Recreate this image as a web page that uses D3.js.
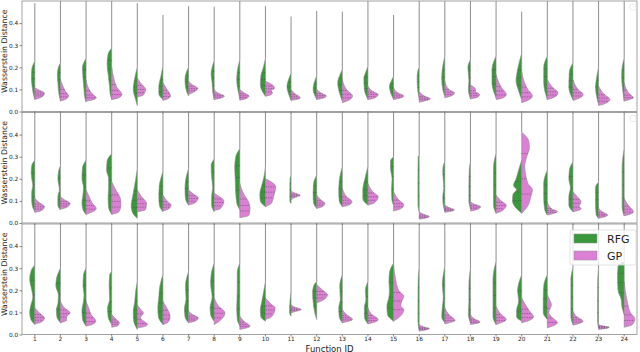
<!DOCTYPE html>
<html>
<head>
<meta charset="utf-8">
<script src="https://cdn.jsdelivr.net/npm/d3@7"></script>
<style>
  body { margin: 0; background: #fff; }
  svg { display: block; font-family: "DejaVu Sans", sans-serif; }
</style>
</head>
<body>
<div id="chart"></div>
<script>
// categories and labels
var functionIds = [1, 2, 3, 4, 5, 6, 7, 8, 9, 10, 11, 12, 13, 14, 15, 16, 17, 18, 19, 20, 21, 22, 23, 24]
var seriesNames = ["RFG", "GP"]
var yTicks = [0, 0.1, 0.2, 0.3, 0.4]

// half-violin profiles: [value, relative density], bottom to top
var rfgTop = [
  [[0.054,0],[0.07,0.1],[0.11,0.25],[0.15,0.33],[0.19,0.3],[0.227,0]],
  [[0.047,0],[0.08,0.15],[0.13,0.25],[0.165,0.3],[0.2,0.2],[0.22,0]],
  [[0.042,0],[0.07,0.15],[0.1,0.2],[0.15,0.3],[0.2,0.35],[0.24,0]],
  [[0.054,0],[0.08,0.15],[0.11,0.2],[0.17,0.35],[0.215,0.45],[0.26,0.35],[0.287,0]],
  [[0.027,0],[0.06,0.2],[0.1,0.4],[0.14,0.3],[0.2,0]],
  [[0.054,0],[0.08,0.4],[0.11,0.4],[0.16,0.2],[0.204,0]],
  [[0.07,0],[0.1,0.25],[0.144,0.35],[0.18,0.2],[0.2,0]],
  [[0.054,0],[0.09,0.15],[0.13,0.2],[0.17,0.3],[0.2,0.2],[0.23,0]],
  [[0.054,0],[0.09,0.15],[0.14,0.3],[0.18,0.25],[0.234,0]],
  [[0.069,0],[0.12,0.5],[0.16,0.45],[0.2,0.2],[0.24,0]],
  [[0.05,0],[0.08,0.25],[0.114,0.4],[0.15,0.2],[0.174,0]],
  [[0.054,0],[0.08,0.25],[0.1,0.35],[0.13,0.25],[0.16,0]],
  [[0.047,0],[0.08,0.25],[0.13,0.45],[0.17,0.2],[0.19,0]],
  [[0.054,0],[0.1,0.35],[0.15,0.4],[0.18,0.2],[0.204,0]],
  [[0.054,0],[0.08,0.25],[0.114,0.4],[0.14,0.2],[0.16,0]],
  [[0.06,0],[0.1,0.15],[0.15,0.2],[0.18,0.15],[0.2,0]],
  [[0.069,0],[0.1,0.2],[0.15,0.3],[0.19,0.25],[0.25,0]],
  [[0.057,0],[0.1,0.2],[0.14,0.15],[0.2,0.25],[0.234,0]],
  [[0.062,0],[0.13,0.4],[0.19,0.4],[0.25,0]],
  [[0.054,0],[0.1,0.35],[0.14,0.55],[0.19,0.4],[0.264,0]],
  [[0.054,0],[0.13,0.35],[0.2,0.35],[0.25,0]],
  [[0.054,0],[0.11,0.4],[0.18,0.35],[0.22,0]],
  [[0.032,0],[0.07,0.2],[0.11,0.3],[0.15,0.2],[0.2,0]],
  [[0.047,0],[0.1,0.15],[0.16,0.25],[0.2,0.2],[0.24,0]]
]
var gpTop = [
  [[0.054,0],[0.06,0.4],[0.07,0.8],[0.084,0.95],[0.095,0.5],[0.107,0]],
  [[0.047,0],[0.055,0.5],[0.07,0.8],[0.09,0.5],[0.12,0.2],[0.144,0]],
  [[0.047,0],[0.052,0.6],[0.062,1.0],[0.08,0.6],[0.11,0.2],[0.144,0]],
  [[0.054,0],[0.06,0.6],[0.077,1.0],[0.11,0.5],[0.15,0.2],[0.2,0]],
  [[0.066,0],[0.075,0.6],[0.1,0.8],[0.13,0.3],[0.152,0]],
  [[0.05,0],[0.058,0.5],[0.07,0.75],[0.1,0.4],[0.13,0]],
  [[0.077,0],[0.09,0.6],[0.105,0.9],[0.12,0.4],[0.137,0]],
  [[0.054,0],[0.06,0.6],[0.07,1.0],[0.08,0.5],[0.1,0]],
  [[0.051,0],[0.058,0.6],[0.07,0.9],[0.085,0.4],[0.1,0]],
  [[0.069,0],[0.075,0.5],[0.085,0.7],[0.095,0.55],[0.105,0.9],[0.12,0.7],[0.137,0]],
  [[0.05,0],[0.055,0.6],[0.062,0.9],[0.08,0.4],[0.1,0]],
  [[0.054,0],[0.06,0.6],[0.07,0.95],[0.085,0.4],[0.1,0]],
  [[0.04,0],[0.05,0.6],[0.07,1.0],[0.1,0.4],[0.144,0]],
  [[0.054,0],[0.06,0.6],[0.077,1.0],[0.09,0.5],[0.114,0]],
  [[0.054,0],[0.06,0.6],[0.07,1.0],[0.085,0.4],[0.107,0]],
  [[0.042,0],[0.05,0.7],[0.057,1.1],[0.07,0.5],[0.09,0]],
  [[0.062,0],[0.07,0.6],[0.084,0.95],[0.1,0.4],[0.137,0]],
  [[0.057,0],[0.065,0.7],[0.077,0.9],[0.09,0.5],[0.1,0.5],[0.12,0]],
  [[0.054,0],[0.06,0.6],[0.077,1.0],[0.11,0.5],[0.167,0]],
  [[0.04,0],[0.05,0.6],[0.07,1.05],[0.1,0.6],[0.14,0.2],[0.18,0]],
  [[0.054,0],[0.065,0.7],[0.084,1.05],[0.11,0.5],[0.144,0]],
  [[0.05,0],[0.06,0.6],[0.077,1.0],[0.1,0.5],[0.144,0]],
  [[0.027,0],[0.035,0.6],[0.054,1.1],[0.08,0.5],[0.114,0]],
  [[0.047,0],[0.055,0.6],[0.062,0.9],[0.08,0.5],[0.13,0]]
]
var tailTop = [0.49, 0.6, 0.6, 0.6, 0.49, 0.437, 0.477, 0.474, 0.6, 0.477, 0.43, 0.455,
  0.452, 0.6, 0.437, 0.6, 0.6, 0.6, 0.6, 0.452, 0.6, 0.6, 0.6, 0.6]

var rfgMid = [
  [[0.051,0],[0.07,0.2],[0.1,0.3],[0.14,0.3],[0.17,0.2],[0.2,0.3],[0.23,0.35],[0.26,0.3],[0.284,0]],
  [[0.059,0],[0.08,0.25],[0.12,0.25],[0.15,0.1],[0.2,0.25],[0.23,0.2],[0.26,0]],
  [[0.039,0],[0.06,0.3],[0.09,0.4],[0.13,0.3],[0.16,0.25],[0.2,0.4],[0.25,0.35],[0.284,0]],
  [[0.039,0],[0.07,0.3],[0.11,0.35],[0.16,0.3],[0.2,0.3],[0.24,0.5],[0.28,0.45],[0.314,0]],
  [[0.021,0],[0.05,0.5],[0.08,0.6],[0.11,0.5],[0.16,0.3],[0.2,0.15],[0.246,0]],
  [[0.051,0],[0.08,0.35],[0.12,0.4],[0.17,0.35],[0.231,0]],
  [[0.081,0],[0.11,0.3],[0.15,0.35],[0.19,0.3],[0.246,0]],
  [[0.051,0],[0.08,0.25],[0.12,0.25],[0.16,0.15],[0.21,0.25],[0.26,0.3],[0.29,0]],
  [[0.06,0],[0.09,0.3],[0.14,0.4],[0.2,0.45],[0.25,0.5],[0.3,0.4],[0.336,0]],
  [[0.074,0],[0.1,0.5],[0.13,0.55],[0.18,0.3],[0.22,0.1],[0.254,0]],
  [[0.089,0],[0.1,0.12],[0.15,0.12],[0.2,0.1],[0.216,0]],
  [[0.066,0],[0.09,0.3],[0.13,0.35],[0.18,0.3],[0.216,0]],
  [[0.074,0],[0.1,0.3],[0.14,0.35],[0.19,0.3],[0.254,0]],
  [[0.081,0],[0.11,0.5],[0.15,0.5],[0.2,0.3],[0.254,0]],
  [[0.081,0],[0.1,0.15],[0.15,0.2],[0.2,0.15],[0.25,0.3],[0.28,0.3],[0.3,0]],
  [[0.05,0],[0.08,0.12],[0.15,0.12],[0.22,0.12],[0.3,0.1],[0.306,0]],
  [[0.051,0],[0.08,0.15],[0.12,0.2],[0.16,0.1],[0.23,0.2],[0.26,0.15],[0.276,0]],
  [[0.066,0],[0.1,0.15],[0.17,0.15],[0.24,0.12],[0.276,0]],
  [[0.044,0],[0.08,0.25],[0.15,0.25],[0.25,0.25],[0.314,0]],
  [[0.044,0],[0.07,0.6],[0.1,0.9],[0.13,0.85],[0.15,0.5],[0.17,0.8],[0.2,0.55],[0.24,0.3],[0.284,0]],
  [[0.036,0],[0.06,0.25],[0.11,0.35],[0.18,0.35],[0.239,0]],
  [[0.051,0],[0.08,0.4],[0.12,0.4],[0.16,0.25],[0.2,0.4],[0.24,0.35],[0.276,0]],
  [[0.021,0],[0.04,0.25],[0.1,0.3],[0.16,0.3],[0.186,0]],
  [[0.033,0],[0.07,0.2],[0.15,0.2],[0.25,0.2],[0.336,0]]
]
var gpMid = [
  [[0.048,0],[0.055,0.6],[0.074,0.95],[0.09,0.5],[0.111,0]],
  [[0.063,0],[0.07,0.6],[0.089,0.95],[0.105,0.4],[0.119,0]],
  [[0.039,0],[0.05,0.6],[0.066,1.0],[0.09,0.6],[0.12,0.3],[0.149,0]],
  [[0.039,0],[0.05,0.7],[0.08,0.9],[0.11,0.85],[0.15,0.4],[0.186,0]],
  [[0.051,0],[0.06,0.8],[0.089,0.9],[0.12,0.4],[0.149,0]],
  [[0.054,0],[0.065,0.6],[0.081,0.8],[0.1,0.4],[0.126,0]],
  [[0.081,0],[0.09,0.6],[0.115,0.95],[0.13,0.5],[0.149,0]],
  [[0.057,0],[0.065,0.6],[0.1,0.95],[0.12,0.5],[0.135,0]],
  [[0.024,0],[0.035,0.9],[0.066,1.0],[0.096,0.85],[0.13,0.4],[0.179,0]],
  [[0.074,0],[0.09,0.6],[0.12,0.8],[0.164,1.0],[0.185,0.6],[0.2,0]],
  [[0.105,0],[0.114,0.3],[0.126,0.9],[0.135,0.4],[0.144,0]],
  [[0.066,0],[0.075,0.6],[0.089,0.8],[0.105,0.4],[0.126,0]],
  [[0.074,0],[0.08,0.6],[0.096,0.95],[0.12,0.4],[0.156,0]],
  [[0.081,0],[0.09,0.6],[0.119,1.0],[0.14,0.5],[0.179,0]],
  [[0.054,0],[0.065,0.7],[0.081,1.0],[0.11,0.4],[0.141,0]],
  [[0.017,0],[0.022,0.6],[0.029,1.0],[0.04,0.4],[0.051,0]],
  [[0.048,0],[0.053,0.6],[0.059,0.95],[0.07,0.4],[0.081,0]],
  [[0.054,0],[0.06,0.6],[0.074,1.0],[0.085,0.4],[0.096,0]],
  [[0.044,0],[0.055,0.6],[0.081,1.0],[0.1,0.5],[0.126,0]],
  [[0.044,0],[0.07,0.5],[0.12,0.9],[0.15,1.05],[0.18,0.6],[0.26,0.3],[0.3,0.5],[0.34,0.75],[0.37,0.7],[0.411,0]],
  [[0.036,0],[0.043,0.6],[0.051,1.0],[0.065,0.4],[0.096,0]],
  [[0.051,0],[0.06,0.7],[0.066,0.8],[0.075,0.6],[0.096,0.8],[0.12,0.4],[0.141,0]],
  [[0.021,0],[0.028,0.6],[0.036,0.9],[0.05,0.4],[0.066,0]],
  [[0.033,0],[0.04,0.6],[0.051,0.9],[0.08,0.4],[0.111,0]]
]
var tailMid = [0.6, 0.6, 0.6, 0.6, 0.6, 0.6, 0.6, 0.6, 0.6, 0.6, 0.6, 0.6,
  0.6, 0.6, 0.6, 0.6, 0.6, 0.6, 0.6, 0.6, 0.6, 0.6, 0.6, 0.6]

var rfgBottom = [
  [[0.045,0],[0.07,0.4],[0.1,0.5],[0.13,0.4],[0.17,0.2],[0.2,0.3],[0.25,0.5],[0.29,0.35],[0.315,0]],
  [[0.053,0],[0.08,0.35],[0.11,0.4],[0.14,0.25],[0.18,0.2],[0.22,0.45],[0.25,0.4],[0.3,0]],
  [[0.038,0],[0.07,0.35],[0.11,0.4],[0.15,0.25],[0.18,0.2],[0.22,0.3],[0.27,0.25],[0.3,0]],
  [[0.045,0],[0.08,0.35],[0.12,0.4],[0.16,0.2],[0.22,0.25],[0.27,0.2],[0.285,0]],
  [[0.023,0],[0.06,0.35],[0.1,0.4],[0.15,0.25],[0.2,0.15],[0.24,0]],
  [[0.045,0],[0.08,0.45],[0.12,0.5],[0.17,0.4],[0.22,0.3],[0.27,0]],
  [[0.053,0],[0.08,0.35],[0.12,0.4],[0.16,0.25],[0.22,0.3],[0.285,0]],
  [[0.06,0],[0.09,0.35],[0.12,0.4],[0.17,0.2],[0.23,0.35],[0.27,0.3],[0.323,0]],
  [[0.038,0],[0.07,0.25],[0.12,0.3],[0.2,0.25],[0.28,0.25],[0.323,0]],
  [[0.06,0],[0.08,0.45],[0.11,0.5],[0.15,0.35],[0.2,0.15],[0.24,0]],
  [[0.083,0],[0.1,0.15],[0.14,0.12],[0.195,0]],
  [[0.068,0],[0.1,0.2],[0.15,0.35],[0.19,0.4],[0.22,0.3],[0.24,0]],
  [[0.053,0],[0.08,0.3],[0.12,0.35],[0.16,0.2],[0.22,0.25],[0.27,0]],
  [[0.048,0],[0.08,0.35],[0.12,0.35],[0.16,0.2],[0.2,0.25],[0.24,0]],
  [[0.06,0],[0.09,0.6],[0.13,0.65],[0.17,0.45],[0.2,0.4],[0.24,0.45],[0.28,0.4],[0.323,0]],
  [[0.02,0],[0.06,0.12],[0.15,0.12],[0.25,0.1],[0.3,0]],
  [[0.053,0],[0.08,0.3],[0.12,0.25],[0.17,0.15],[0.23,0.25],[0.27,0.15],[0.31,0]],
  [[0.053,0],[0.09,0.2],[0.15,0.15],[0.22,0.15],[0.3,0]],
  [[0.045,0],[0.08,0.3],[0.15,0.3],[0.25,0.3],[0.33,0]],
  [[0.06,0],[0.08,0.5],[0.11,0.5],[0.15,0.3],[0.2,0.4],[0.23,0.3],[0.27,0]],
  [[0.068,0],[0.1,0.4],[0.15,0.4],[0.22,0.35],[0.27,0]],
  [[0.045,0],[0.08,0.2],[0.15,0.2],[0.25,0.2],[0.3,0]],
  [[0.03,0],[0.06,0.1],[0.15,0.1],[0.25,0.08],[0.3,0]],
  [[0.09,0],[0.12,0.2],[0.16,0.3],[0.2,0.6],[0.26,0.65],[0.31,0.6],[0.33,0]]
]
var gpBottom = [
  [[0.048,0],[0.055,0.6],[0.075,0.95],[0.095,0.5],[0.12,0]],
  [[0.053,0],[0.065,0.6],[0.08,0.6],[0.098,0.95],[0.12,0.4],[0.15,0]],
  [[0.038,0],[0.045,0.6],[0.06,0.95],[0.09,0.5],[0.12,0.25],[0.15,0]],
  [[0.033,0],[0.04,0.6],[0.053,0.75],[0.07,0.4],[0.09,0]],
  [[0.03,0],[0.036,0.7],[0.045,1.0],[0.075,0.3],[0.098,0.6],[0.115,0.3],[0.135,0]],
  [[0.045,0],[0.055,0.5],[0.08,0.7],[0.1,0.6],[0.13,0.25],[0.15,0]],
  [[0.053,0],[0.06,0.6],[0.075,0.95],[0.09,0.4],[0.105,0]],
  [[0.045,0],[0.06,0.5],[0.098,1.05],[0.13,0.4],[0.165,0]],
  [[0.023,0],[0.03,0.7],[0.038,1.0],[0.06,0.4],[0.083,0]],
  [[0.068,0],[0.08,0.6],[0.12,0.95],[0.14,0.5],[0.165,0]],
  [[0.098,0],[0.105,0.5],[0.113,1.0],[0.125,0.3],[0.135,0]],
  [[0.143,0],[0.155,0.6],[0.18,1.05],[0.2,0.6],[0.225,0]],
  [[0.053,0],[0.06,0.6],[0.068,1.0],[0.09,0.4],[0.113,0]],
  [[0.048,0],[0.055,0.6],[0.068,1.0],[0.09,0.4],[0.12,0]],
  [[0.06,0],[0.08,0.6],[0.113,1.0],[0.13,0.7],[0.15,0.8],[0.173,1.0],[0.2,0.5],[0.25,0.2],[0.315,0]],
  [[0.015,0],[0.02,0.6],[0.027,1.0],[0.035,0.4],[0.045,0]],
  [[0.048,0],[0.055,0.6],[0.063,1.0],[0.09,0.4],[0.12,0]],
  [[0.045,0],[0.05,0.6],[0.057,0.95],[0.07,0.4],[0.09,0]],
  [[0.045,0],[0.055,0.6],[0.068,1.0],[0.09,0.5],[0.128,0]],
  [[0.053,0],[0.065,0.8],[0.08,1.15],[0.11,0.7],[0.14,0.3],[0.165,0]],
  [[0.03,0],[0.04,0.6],[0.053,1.0],[0.08,0.4],[0.1,0.15],[0.135,0.4],[0.16,0.2],[0.18,0]],
  [[0.042,0],[0.05,0.6],[0.06,1.0],[0.08,0.4],[0.105,0]],
  [[0.023,0],[0.027,0.7],[0.033,1.05],[0.038,0.5],[0.045,0]],
  [[0.033,0],[0.045,0.8],[0.07,1.05],[0.1,0.6],[0.15,0.3],[0.2,0.1],[0.24,0]]
]
var tailBottom = [0.6, 0.6, 0.6, 0.6, 0.6, 0.6, 0.6, 0.6, 0.6, 0.6, 0.6, 0.6,
  0.6, 0.6, 0.6, 0.6, 0.6, 0.6, 0.6, 0.6, 0.6, 0.6, 0.6, 0.6]

var width = 640,
  height = 352,
  left = 22,
  right = 637,
  panelTops = [1, 112.5, 224],
  panelH = 110.5

var colors = { RFG: "#3a983a", GP: "#dc80d5" }

var panels = [
  { rfg: rfgTop, gp: gpTop, tail: tailTop },
  { rfg: rfgMid, gp: gpMid, tail: tailMid },
  { rfg: rfgBottom, gp: gpBottom, tail: tailBottom }
]

var svg = d3.select("#chart").append("svg")
  .attr("width", width)
  .attr("height", height)

var x = d3.scaleBand()
  .domain(functionIds)
  .range([left, right])

var wScale = d3.scaleLinear()
  .domain([0, 1])
  .range([0, x.bandwidth() * 0.4])

panels.forEach(function (p, i) {
  var top = panelTops[i]
  var y = d3.scaleLinear()
    .domain([0, 0.5])
    .range([top + panelH, top])

  var g = svg.append("g")

  g.append("clipPath")
    .attr("id", "clip" + i)
    .append("rect")
    .attr("x", left)
    .attr("y", top)
    .attr("width", right - left)
    .attr("height", panelH)

  var plot = g.append("g").attr("clip-path", "url(#clip" + i + ")")

  functionIds.forEach(function (id, j) {
    var cx = x(id) + x.bandwidth() / 2
    var bulkTop = Math.max(p.rfg[j][p.rfg[j].length - 1][0], p.gp[j][p.gp[j].length - 1][0])

    // long thin upper tail
    plot.append("line")
      .attr("x1", cx).attr("x2", cx)
      .attr("y1", y(bulkTop)).attr("y2", y(p.tail[j]))
      .attr("stroke", "#808080")
      .attr("stroke-width", 0.9)

    drawHalf(plot, y, cx, p.rfg[j], -1, colors.RFG)
    drawHalf(plot, y, cx, p.gp[j], 1, colors.GP)
  })

  // frame
  g.append("rect")
    .attr("x", left)
    .attr("y", top)
    .attr("width", right - left)
    .attr("height", panelH)
    .attr("fill", "none")
    .attr("stroke", "#8a8a8a")
    .attr("stroke-width", 0.8)

  var yAxis = g.append("g")
    .attr("transform", "translate(" + left + ",0)")
    .call(d3.axisLeft(y).tickValues(yTicks).tickFormat(d3.format(".1f")).tickSize(2.5).tickPadding(1.2))
  styleAxis(yAxis)

  var xAxis = g.append("g")
    .attr("transform", "translate(0," + (top + panelH) + ")")
    .call(d3.axisBottom(x).tickSize(2).tickPadding(0.8).tickFormat(i === 2 ? null : ""))
  styleAxis(xAxis)

  g.append("text")
    .attr("transform", "translate(7," + (top + panelH / 2 - 5) + ") rotate(-90)")
    .attr("text-anchor", "middle")
    .attr("font-size", 7.8)
    .attr("fill", "#222")
    .text("Wasserstein Distance")

  if (i < 2) {
    // empty legend frame left by the plotting library
    g.append("rect")
      .attr("x", 630).attr("y", top + 3)
      .attr("width", 6).attr("height", 6)
      .attr("rx", 1.5)
      .attr("fill", "#fff")
      .attr("stroke", "#e2e2e2")
      .attr("stroke-width", 0.8)
  } else {
    drawLegend(g)
  }
})

svg.append("text")
  .attr("x", (left + right) / 2)
  .attr("y", 351.5)
  .attr("text-anchor", "middle")
  .attr("font-size", 8.5)
  .attr("fill", "#222")
  .text("Function ID")

function drawHalf(plot, y, cx, knots, side, color) {
  var pts = knots.slice().reverse()
  var area = d3.area()
    .curve(d3.curveMonotoneY)
    .y(function (d) { return y(d[0]) })
    .x0(cx)
    .x1(function (d) { return cx + side * wScale(d[1]) })

  plot.append("path")
    .attr("d", area(pts))
    .attr("fill", color)
    .attr("stroke", "#8c8c8c")
    .attr("stroke-width", 0.6)

  quartiles(knots).forEach(function (q) {
    plot.append("line")
      .attr("x1", cx)
      .attr("x2", cx + side * wScale(q.w))
      .attr("y1", y(q.v)).attr("y2", y(q.v))
      .attr("stroke", "#4a4a4a")
      .attr("stroke-width", 0.5)
      .attr("stroke-dasharray", "1.5,1")
  })
}

function quartiles(knots) {
  var cum = [0]
  for (var k = 1; k < knots.length; k++) {
    var dv = knots[k][0] - knots[k - 1][0]
    cum.push(cum[k - 1] + dv * (knots[k][1] + knots[k - 1][1]) / 2)
  }
  var total = cum[cum.length - 1]
  return [0.25, 0.5, 0.75].map(function (q) {
    var target = q * total
    var k = Math.max(1, d3.bisectLeft(cum, target))
    var t = (target - cum[k - 1]) / ((cum[k] - cum[k - 1]) || 1)
    return {
      v: knots[k - 1][0] + t * (knots[k][0] - knots[k - 1][0]),
      w: knots[k - 1][1] + t * (knots[k][1] - knots[k - 1][1])
    }
  })
}

function styleAxis(axis) {
  axis.select(".domain").remove()
  axis.selectAll(".tick line").attr("stroke", "#555").attr("stroke-width", 0.7)
  axis.selectAll(".tick text")
    .attr("font-size", 5.8)
    .attr("fill", "#222")
    .attr("font-family", "DejaVu Sans, sans-serif")
}

function drawLegend(g) {
  var lg = g.append("g").attr("transform", "translate(570,230)")
  lg.append("rect")
    .attr("width", 66).attr("height", 35)
    .attr("rx", 2)
    .attr("fill", "#fff")
    .attr("fill-opacity", 0.8)
    .attr("stroke", "#dcdcdc")
    .attr("stroke-width", 0.8)

  seriesNames.forEach(function (name, k) {
    lg.append("rect")
      .attr("x", 4).attr("y", 4 + k * 17)
      .attr("width", 23).attr("height", 9)
      .attr("fill", colors[name])
      .attr("stroke", "#8c8c8c")
      .attr("stroke-width", 0.5)
    lg.append("text")
      .attr("x", 37).attr("y", 13 + k * 17)
      .attr("font-size", 11)
      .attr("fill", "#222")
      .text(name)
  })
}
</script>
</body>
</html>
